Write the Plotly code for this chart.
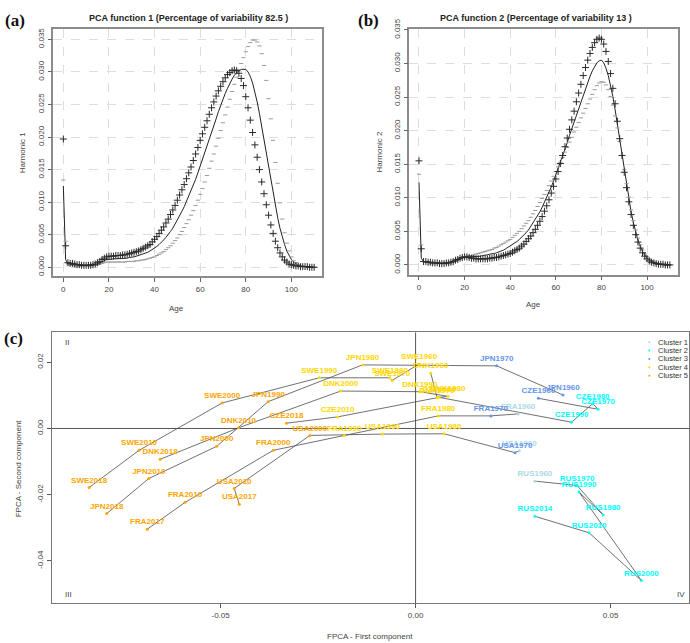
import plotly.graph_objects as go

# ---------- panels (a) and (b): harmonics of the FPCA ----------
ages = list(range(0, 111))

a_mean = [0.0125, 0.0012, 0.0005, 0.0004, 0.0004, 0.0004, 0.0003, 0.0003, 0.0003, 0.0003,
          0.0003, 0.0003, 0.0003, 0.0003, 0.0004, 0.0005, 0.0007, 0.0009, 0.0010, 0.0012,
          0.0012, 0.0013, 0.0013, 0.0013, 0.0013, 0.0013, 0.0013, 0.0014, 0.0014, 0.0015,
          0.0015, 0.0016, 0.0017, 0.0018, 0.0019, 0.0020, 0.0021, 0.0023, 0.0025, 0.0027,
          0.0029, 0.0032, 0.0035, 0.0038, 0.0042, 0.0046, 0.0050, 0.0055, 0.0060, 0.0066,
          0.0072, 0.0079, 0.0086, 0.0093, 0.0101, 0.0109, 0.0117, 0.0126, 0.0135, 0.0145,
          0.0155, 0.0165, 0.0175, 0.0186, 0.0197, 0.0207, 0.0218, 0.0228, 0.0239, 0.0249,
          0.0258, 0.0267, 0.0275, 0.0283, 0.0289, 0.0295, 0.0299, 0.0302, 0.0304, 0.0304,
          0.0304, 0.0300, 0.0293, 0.0283, 0.0270, 0.0254, 0.0236, 0.0216, 0.0195, 0.0174,
          0.0153, 0.0132, 0.0112, 0.0093, 0.0076, 0.0060, 0.0046, 0.0035, 0.0025, 0.0018,
          0.0012, 0.0008, 0.0005, 0.0003, 0.0002, 0.0001, 0.0001, 0.0001, 0.0000, 0.0000, 0.0000]
a_plus = [0.0197, 0.0033, 0.0007, 0.0006, 0.0006, 0.0005, 0.0004, 0.0004, 0.0003, 0.0003,
          0.0003, 0.0003, 0.0003, 0.0004, 0.0005, 0.0007, 0.0009, 0.0012, 0.0014, 0.0016,
          0.0017, 0.0017, 0.0017, 0.0018, 0.0018, 0.0018, 0.0019, 0.0019, 0.0020, 0.0021,
          0.0022, 0.0023, 0.0024, 0.0025, 0.0027, 0.0029, 0.0031, 0.0033, 0.0035, 0.0039,
          0.0043, 0.0047, 0.0052, 0.0057, 0.0062, 0.0068, 0.0074, 0.0081, 0.0088, 0.0095,
          0.0103, 0.0111, 0.0119, 0.0127, 0.0136, 0.0145, 0.0154, 0.0164, 0.0174, 0.0184,
          0.0195, 0.0205, 0.0215, 0.0225, 0.0235, 0.0245, 0.0254, 0.0263, 0.0271, 0.0278,
          0.0285, 0.0291, 0.0296, 0.0299, 0.0302, 0.0303, 0.0302, 0.0298, 0.0290, 0.0279,
          0.0262, 0.0245, 0.0226, 0.0207, 0.0188, 0.0169, 0.0150, 0.0131, 0.0113, 0.0096,
          0.0080, 0.0065, 0.0052, 0.0040, 0.0030, 0.0022, 0.0016, 0.0011, 0.0008, 0.0005,
          0.0004, 0.0003, 0.0002, 0.0002, 0.0001, 0.0001, 0.0001, 0.0001, 0.0000, 0.0000, 0.0000]
a_minus = [0.0134, 0.0040, 0.0005, 0.0003, 0.0003, 0.0002, 0.0002, 0.0002, 0.0002, 0.0002,
           0.0002, 0.0002, 0.0002, 0.0003, 0.0003, 0.0004, 0.0005, 0.0006, 0.0007, 0.0008,
           0.0008, 0.0008, 0.0008, 0.0008, 0.0008, 0.0008, 0.0008, 0.0008, 0.0009, 0.0009,
           0.0009, 0.0009, 0.0010, 0.0010, 0.0011, 0.0011, 0.0012, 0.0013, 0.0014, 0.0015,
           0.0016, 0.0018, 0.0020, 0.0022, 0.0024, 0.0027, 0.0030, 0.0033, 0.0037, 0.0041,
           0.0045, 0.0050, 0.0055, 0.0061, 0.0067, 0.0073, 0.0080, 0.0087, 0.0095, 0.0103,
           0.0112, 0.0121, 0.0131, 0.0141, 0.0152, 0.0163, 0.0174, 0.0186, 0.0198, 0.0210,
           0.0222, 0.0234, 0.0246, 0.0258, 0.0270, 0.0281, 0.0292, 0.0303, 0.0313, 0.0322,
           0.0331, 0.0339, 0.0345, 0.0349, 0.0349, 0.0346, 0.0340, 0.0328, 0.0310, 0.0287,
           0.0259, 0.0228, 0.0195, 0.0161, 0.0129, 0.0099, 0.0074, 0.0053, 0.0037, 0.0025,
           0.0016, 0.0010, 0.0007, 0.0004, 0.0003, 0.0002, 0.0001, 0.0001, 0.0000, 0.0000, 0.0000]

b_mean = [0.0123, 0.0010, 0.0005, 0.0004, 0.0004, 0.0003, 0.0003, 0.0003, 0.0002, 0.0002,
          0.0002, 0.0002, 0.0003, 0.0003, 0.0004, 0.0005, 0.0007, 0.0008, 0.0010, 0.0011,
          0.0012, 0.0012, 0.0012, 0.0012, 0.0012, 0.0013, 0.0013, 0.0013, 0.0014, 0.0014,
          0.0015, 0.0016, 0.0016, 0.0017, 0.0018, 0.0019, 0.0021, 0.0022, 0.0024, 0.0026,
          0.0028, 0.0030, 0.0032, 0.0035, 0.0038, 0.0041, 0.0044, 0.0048, 0.0052, 0.0057,
          0.0062, 0.0067, 0.0073, 0.0079, 0.0086, 0.0093, 0.0100, 0.0108, 0.0116, 0.0125,
          0.0134, 0.0143, 0.0152, 0.0162, 0.0172, 0.0182, 0.0193, 0.0203, 0.0214, 0.0224,
          0.0234, 0.0244, 0.0254, 0.0263, 0.0272, 0.0281, 0.0289, 0.0296, 0.0301, 0.0304,
          0.0305, 0.0301, 0.0293, 0.0282, 0.0268, 0.0251, 0.0231, 0.0209, 0.0186, 0.0163,
          0.0140, 0.0118, 0.0098, 0.0079, 0.0063, 0.0049, 0.0037, 0.0028, 0.0020, 0.0015,
          0.0010, 0.0007, 0.0005, 0.0003, 0.0002, 0.0002, 0.0001, 0.0001, 0.0000, 0.0000, 0.0000]
b_plus = [0.0155, 0.0024, 0.0005, 0.0005, 0.0004, 0.0004, 0.0003, 0.0003, 0.0003, 0.0002,
          0.0002, 0.0002, 0.0003, 0.0003, 0.0004, 0.0005, 0.0007, 0.0008, 0.0010, 0.0011,
          0.0012, 0.0012, 0.0011, 0.0010, 0.0010, 0.0009, 0.0009, 0.0009, 0.0009, 0.0009,
          0.0009, 0.0010, 0.0010, 0.0011, 0.0011, 0.0012, 0.0013, 0.0014, 0.0015, 0.0016,
          0.0017, 0.0019, 0.0021, 0.0023, 0.0025, 0.0028, 0.0031, 0.0035, 0.0039, 0.0043,
          0.0048, 0.0053, 0.0059, 0.0065, 0.0072, 0.0080, 0.0088, 0.0097, 0.0107, 0.0117,
          0.0128, 0.0139, 0.0151, 0.0163, 0.0176, 0.0189, 0.0202, 0.0216, 0.0229, 0.0243,
          0.0256, 0.0269, 0.0282, 0.0294, 0.0305, 0.0315, 0.0324, 0.0331, 0.0336, 0.0338,
          0.0336, 0.0329, 0.0318, 0.0303, 0.0285, 0.0263, 0.0240, 0.0214, 0.0188, 0.0163,
          0.0138, 0.0115, 0.0094, 0.0075, 0.0059, 0.0045, 0.0034, 0.0025, 0.0018, 0.0013,
          0.0009, 0.0006, 0.0004, 0.0003, 0.0002, 0.0001, 0.0001, 0.0001, 0.0000, 0.0000, 0.0000]
b_minus = [0.0135, 0.0030, 0.0005, 0.0004, 0.0004, 0.0003, 0.0003, 0.0003, 0.0002, 0.0002,
           0.0002, 0.0002, 0.0003, 0.0003, 0.0004, 0.0005, 0.0007, 0.0008, 0.0010, 0.0011,
           0.0012, 0.0013, 0.0014, 0.0014, 0.0015, 0.0016, 0.0017, 0.0018, 0.0019, 0.0020,
           0.0021, 0.0022, 0.0023, 0.0025, 0.0026, 0.0028, 0.0030, 0.0032, 0.0034, 0.0036,
           0.0038, 0.0041, 0.0044, 0.0047, 0.0050, 0.0054, 0.0058, 0.0062, 0.0066, 0.0071,
           0.0076, 0.0081, 0.0087, 0.0093, 0.0099, 0.0105, 0.0111, 0.0118, 0.0125, 0.0132,
           0.0139, 0.0146, 0.0153, 0.0160, 0.0168, 0.0175, 0.0183, 0.0190, 0.0198, 0.0205,
           0.0212, 0.0219, 0.0226, 0.0233, 0.0240, 0.0247, 0.0254, 0.0261, 0.0267, 0.0271,
           0.0273, 0.0272, 0.0268, 0.0261, 0.0251, 0.0238, 0.0222, 0.0204, 0.0184, 0.0163,
           0.0142, 0.0121, 0.0101, 0.0082, 0.0066, 0.0052, 0.0040, 0.0030, 0.0022, 0.0016,
           0.0012, 0.0008, 0.0006, 0.0004, 0.0003, 0.0002, 0.0001, 0.0001, 0.0001, 0.0000, 0.0000]

# ---------- panel (c): FPCA scores per country-year ----------
labels = ["SWE1960", "SWE1970", "SWE1980", "SWE1990", "SWE2000", "SWE2010", "SWE2018",
          "JPN1960", "JPN1970", "JPN1980", "JPN1990", "JPN2000", "JPN2010", "JPN2018",
          "DNK1960", "DNK1970", "DNK1980", "DNK1990", "DNK2000", "DNK2010", "DNK2018",
          "CZE1960", "CZE1970", "CZE1980", "CZE1990", "CZE2000", "CZE2010", "CZE2018",
          "FRA1960", "FRA1970", "FRA1980", "FRA1990", "FRA2000", "FRA2010", "FRA2017",
          "USA1960", "USA1970", "USA1980", "USA1990", "USA2000", "USA2010", "USA2017",
          "RUS1960", "RUS1970", "RUS1980", "RUS1990", "RUS2000", "RUS2010", "RUS2014"]
pc1 = [0.0009, -0.0060, -0.0066, -0.0247, -0.0496, -0.0709, -0.0837,
       0.0378, 0.0208, -0.0136, -0.0378, -0.0510, -0.0684, -0.0792,
       0.0039, 0.0055, 0.0083, 0.0011, -0.0192, -0.0454, -0.0655,
       0.0315, 0.0468, 0.0454, 0.0400, 0.0060, -0.0200, -0.0331,
       0.0263, 0.0193, 0.0058, -0.0183, -0.0365, -0.0591, -0.0688,
       0.0266, 0.0255, 0.0073, -0.0085, -0.0271, -0.0465, -0.0452,
       0.0306, 0.0414, 0.0481, 0.0419, 0.0579, 0.0445, 0.0306]
pc2 = [0.0195, 0.0145, 0.0153, 0.0153, 0.0077, -0.0066, -0.0178,
       0.0101, 0.0189, 0.0192, 0.0081, -0.0054, -0.0151, -0.0257,
       0.0167, 0.0093, 0.0097, 0.0111, 0.0113, 0.0002, -0.0093,
       0.0091, 0.0058, 0.0075, 0.0019, 0.0094, 0.0035, 0.0016,
       0.0044, 0.0038, 0.0038, -0.0021, -0.0066, -0.0223, -0.0304,
       -0.0067, -0.0073, -0.0016, -0.0017, -0.0021, -0.0181, -0.0229,
       -0.0159, -0.0172, -0.0261, -0.0192, -0.0459, -0.0315, -0.0265]
cluster = [4, 4, 4, 4, 5, 5, 5,
           3, 3, 4, 5, 5, 5, 5,
           4, 4, 4, 4, 4, 5, 5,
           3, 2, 2, 2, 4, 4, 5,
           1, 3, 4, 4, 5, 5, 5,
           1, 3, 4, 4, 5, 5, 5,
           1, 2, 2, 2, 2, 2, 2]
cluster_names = ["Cluster 1", "Cluster 2", "Cluster 3", "Cluster 4", "Cluster 5"]
cluster_colors = ["#ADD8E6", "#00FFFF", "#6495ED", "#FFD700", "#FFA500"]

FONT = "Liberation Sans"
W, H = 690, 643


def px(x):
    return x / W


def py(y):
    return 1 - y / H


fig = go.Figure()

# (a) and (b) curves: mean (line), mean + harmonic ("+"), mean - harmonic ("-")
for k, (mean, plus, minus) in enumerate([(a_mean, a_plus, a_minus), (b_mean, b_plus, b_minus)]):
    xa = "x" if k == 0 else "x2"
    ya = "y" if k == 0 else "y2"
    fig.add_trace(go.Scatter(x=ages, y=mean, mode="lines", xaxis=xa, yaxis=ya,
                             line=dict(color="#222222", width=1), showlegend=False))
    fig.add_trace(go.Scatter(x=ages, y=minus, mode="markers", xaxis=xa, yaxis=ya,
                             marker=dict(symbol="line-ew", size=3, color="#9a9a9a",
                                         line=dict(width=1, color="#9a9a9a")),
                             showlegend=False))
    fig.add_trace(go.Scatter(x=ages, y=plus, mode="markers", xaxis=xa, yaxis=ya,
                             marker=dict(symbol="cross-thin", size=5, color="#2a2a2a",
                                         line=dict(width=1, color="#2a2a2a")),
                             showlegend=False))

# (c) trajectories per country, in time order
countries = []
for lab in labels:
    if lab[:3] not in countries:
        countries.append(lab[:3])
for c in countries:
    idx = [i for i, lab in enumerate(labels) if lab[:3] == c]
    idx.sort(key=lambda i: labels[i][3:])
    fig.add_trace(go.Scatter(x=[pc1[i] for i in idx], y=[pc2[i] for i in idx],
                             mode="lines", xaxis="x3", yaxis="y3",
                             line=dict(color="#4d4d4d", width=0.8), showlegend=False))

# (c) points with labels, coloured by cluster
for k in range(5):
    idx = [i for i in range(len(labels)) if cluster[i] == k + 1]
    fig.add_trace(go.Scatter(
        x=[pc1[i] for i in idx], y=[pc2[i] for i in idx],
        text=["<b>%s</b>" % labels[i] for i in idx],
        mode="markers+text", textposition="top center",
        textfont=dict(family=FONT, size=8, color=cluster_colors[k]),
        marker=dict(size=3, color=cluster_colors[k]),
        xaxis="x3", yaxis="y3", name=cluster_names[k], showlegend=False,
        cliponaxis=False))

axis_common = dict(showline=True, mirror=True, ticks="outside", ticklen=4,
                   zeroline=False, tickfont=dict(family=FONT, size=8, color="#444444"))

fig.update_layout(
    width=W, height=H, margin=dict(l=0, r=0, t=0, b=0),
    paper_bgcolor="white", plot_bgcolor="white", showlegend=False,
    font=dict(family=FONT, size=8, color="#333333"),
    xaxis=dict(domain=[px(53.3), px(321.7)], range=[-4.4, 113.3], anchor="y",
               tickvals=[0, 20, 40, 60, 80, 100], showgrid=True, gridcolor="#dddddd",
               griddash="dash", linecolor="#8c8c8c", linewidth=1.5, tickcolor="#666666",
               **axis_common),
    yaxis=dict(domain=[py(270), py(18.3)], range=[-0.0014, 0.0366], anchor="x",
               tickvals=[0, 0.005, 0.01, 0.015, 0.02, 0.025, 0.03, 0.035], tickformat=".3f",
               tickangle=-90, showgrid=True, gridcolor="#dddddd", griddash="dash",
               linecolor="#8c8c8c", linewidth=1.5, tickcolor="#666666", **axis_common),
    xaxis2=dict(domain=[px(409.3), px(678.3)], range=[-4.25, 113.7], anchor="y2",
                tickvals=[0, 20, 40, 60, 80, 100], showgrid=True, gridcolor="#dddddd",
                griddash="dash", linecolor="#8c8c8c", linewidth=1.5, tickcolor="#666666",
                **axis_common),
    yaxis2=dict(domain=[py(268.3), py(18.3)], range=[-0.00146, 0.03514], anchor="x2",
                tickvals=[0, 0.005, 0.01, 0.015, 0.02, 0.025, 0.03, 0.035], tickformat=".3f",
                tickangle=-90, showgrid=True, gridcolor="#dddddd", griddash="dash",
                linecolor="#8c8c8c", linewidth=1.5, tickcolor="#666666", **axis_common),
    xaxis3=dict(domain=[px(51.7), px(689)], range=[-0.0933, 0.0701], anchor="y3",
                tickvals=[-0.05, 0, 0.05], ticktext=["-0.05", "0.00", "0.05"], showgrid=False,
                linecolor="#777777", linewidth=1.2, tickcolor="#555555", **axis_common),
    yaxis3=dict(domain=[py(602.7), py(327)], range=[-0.0528, 0.029], anchor="x3",
                tickvals=[-0.04, -0.02, 0, 0.02], ticktext=["-0.04", "-0.02", "0.00", "0.02"],
                tickangle=-90, showgrid=False, linecolor="#777777", linewidth=1.2,
                tickcolor="#555555", **axis_common),
)

# quadrant axes in (c)
fig.add_shape(type="line", xref="x3", yref="y3 domain", x0=0, x1=0, y0=0, y1=1,
              line=dict(color="#555555", width=1), layer="below")
fig.add_shape(type="line", xref="x3 domain", yref="y3", x0=0, x1=1, y0=0, y1=0,
              line=dict(color="#555555", width=1), layer="below")

ann = []


def text(x, y, s, size=8, color="#333333", bold=False, angle=0, anchor="center", family=FONT):
    ann.append(dict(x=px(x), y=py(y), xref="paper", yref="paper", text="<b>%s</b>" % s if bold else s,
                    showarrow=False, textangle=angle, xanchor=anchor, yanchor="middle",
                    font=dict(family=family, size=size, color=color)))


text(189, 7.5, "PCA function 1 (Percentage of variability 82.5 )", size=9, color="#222222", bold=True)
text(536, 7.5, "PCA function 2 (Percentage of variability 13 )", size=9, color="#222222", bold=True)
text(22.7, 144, "Harmonic 1", angle=-90, color="#444444")
text(380, 144, "Harmonic 2", angle=-90, color="#444444")
text(176, 302.5, "Age", color="#444444")
text(533, 298.5, "Age", color="#444444")
text(370, 636.5, "FPCA - First component", color="#444444")
text(18.3, 465, "FPCA - Second component", angle=-90, color="#444444")
text(15, 10, "(a)", size=17, color="#111111", bold=True, family="Liberation Serif")
text(368, 10, "(b)", size=17, color="#111111", bold=True, family="Liberation Serif")
text(14, 333, "(c)", size=17, color="#111111", bold=True, family="Liberation Serif")
text(66.7, 337, "II", color="#444444")
text(68.3, 593.3, "III", color="#444444")
text(680.7, 594, "IV", color="#444444")

# legend of (c)
rows = [337, 345.5, 354, 362.5, 371]
for k in range(5):
    fig.add_shape(type="circle", xref="paper", yref="paper",
                  x0=px(648.3), x1=px(650.3), y0=py(rows[k] + 1), y1=py(rows[k] - 1),
                  fillcolor=cluster_colors[k], line=dict(width=0))
    text(655.5, rows[k], cluster_names[k], size=7.5, color="#333333", anchor="left")

fig.update_layout(annotations=ann)

fig.write_html("out.html", config={"displayModeBar": False},
               post_script="document.body.style.margin='0px';")
